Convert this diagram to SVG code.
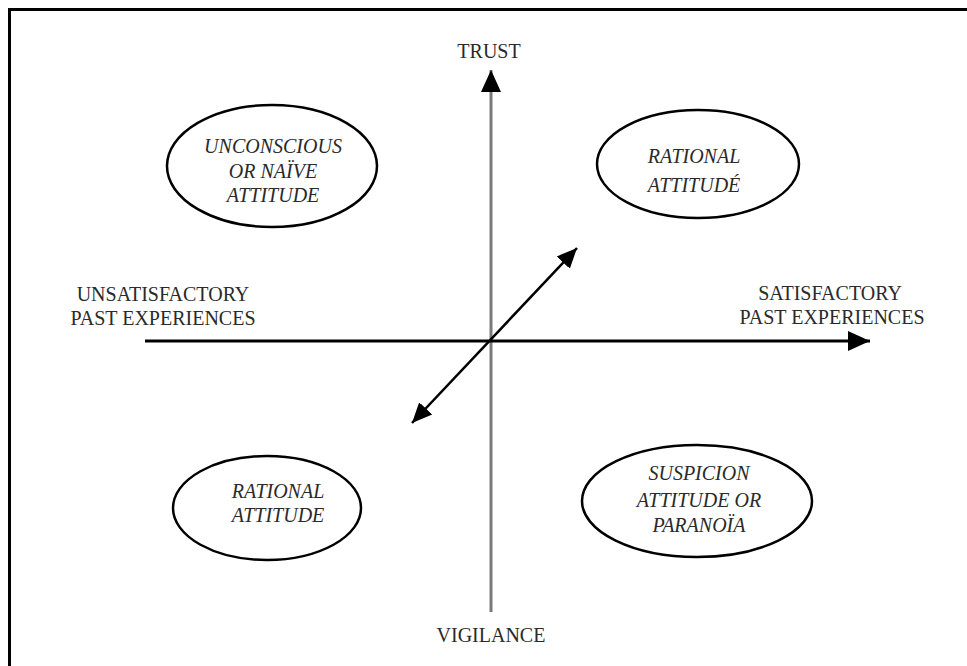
<svg xmlns="http://www.w3.org/2000/svg" width="967" height="666" viewBox="0 0 967 666">
<style>
  .lbl { font-family: "Liberation Serif", "Times New Roman", serif; font-size: 20px; fill: #2a2a2a; text-anchor: middle; }
  .it { font-family: "Liberation Serif", "Times New Roman", serif; font-size: 20px; font-style: italic; fill: #2a2a2a; text-anchor: middle; }
  .ell { fill: none; stroke: #000; stroke-width: 2.5; }
</style>
<defs>
  <marker id="ah" markerUnits="userSpaceOnUse" markerWidth="24" markerHeight="22" refX="22" refY="11" orient="auto-start-reverse">
    <path d="M0,1 L22,11 L0,21 Z" fill="#000"/>
  </marker>
  <marker id="ahs" markerUnits="userSpaceOnUse" markerWidth="22" markerHeight="20" refX="20" refY="10" orient="auto-start-reverse">
    <path d="M0,1 L20,10 L0,19 Z" fill="#000"/>
  </marker>
</defs>
<rect x="0" y="0" width="967" height="666" fill="#fff"/>
<path d="M9.5,666 L9.5,9.5 L967,9.5" fill="none" stroke="#000" stroke-width="3"/>

<g id="connectors">
  <line x1="491" y1="612" x2="491" y2="70" stroke="#7a7a7a" stroke-width="3" marker-end="url(#ah)"/>
  <line x1="145" y1="341" x2="870" y2="341" stroke="#000" stroke-width="3" marker-end="url(#ah)"/>
  <line x1="412" y1="423" x2="577" y2="248" stroke="#000" stroke-width="2.5" marker-start="url(#ahs)" marker-end="url(#ahs)"/>
</g>

<g id="trust"><text class="lbl" x="489" y="58">TRUST</text></g>
<g id="vigilance"><text class="lbl" x="491" y="642">VIGILANCE</text></g>
<g id="unsatisfactory">
  <text class="lbl" x="163" y="301">UNSATISFACTORY</text>
  <text class="lbl" x="163" y="325">PAST EXPERIENCES</text>
</g>
<g id="satisfactory">
  <text class="lbl" x="830" y="300">SATISFACTORY</text>
  <text class="lbl" x="832" y="324">PAST EXPERIENCES</text>
</g>

<g id="unconscious">
  <ellipse class="ell" cx="272" cy="166" rx="105" ry="61"/>
  <text class="it" x="273" y="153">UNCONSCIOUS</text>
  <text class="it" x="273" y="178">OR NAÏVE</text>
  <text class="it" x="273" y="202">ATTITUDE</text>
</g>
<g id="rational-top">
  <ellipse class="ell" cx="698" cy="164" rx="101" ry="54"/>
  <text class="it" x="694" y="163">RATIONAL</text>
  <text class="it" x="694" y="192">ATTITUDÉ</text>
</g>
<g id="rational-bottom">
  <ellipse class="ell" cx="267" cy="508" rx="94" ry="52"/>
  <text class="it" x="278" y="498">RATIONAL</text>
  <text class="it" x="278" y="522">ATTITUDE</text>
</g>
<g id="suspicion">
  <ellipse class="ell" cx="697" cy="501" rx="115" ry="56"/>
  <text class="it" x="699" y="480">SUSPICION</text>
  <text class="it" x="699" y="507">ATTITUDE OR</text>
  <text class="it" x="699" y="532">PARANOÏA</text>
</g>
</svg>
